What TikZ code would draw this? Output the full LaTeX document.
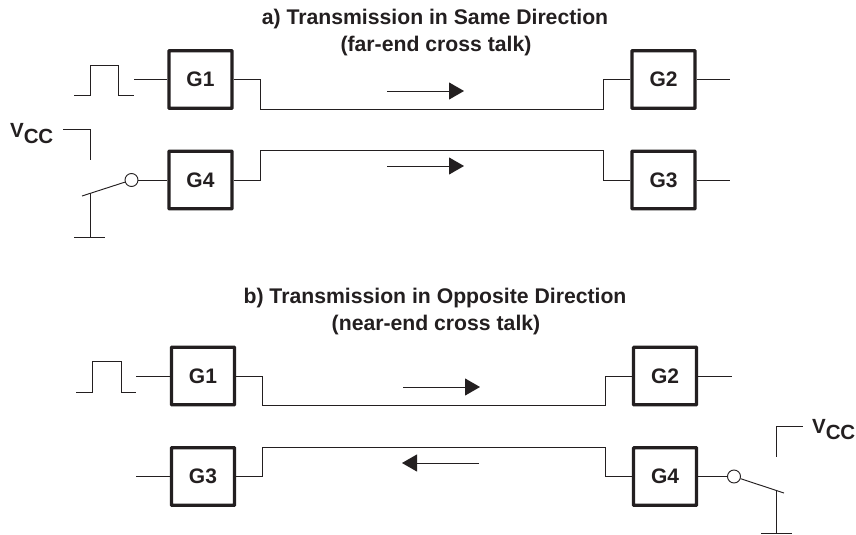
\documentclass[tikz,border=0pt]{standalone}
\usepackage{fontspec}
\setmainfont{Liberation Sans}
\usetikzlibrary{arrows.meta}
\definecolor{ink}{HTML}{231F20}
\tikzset{
  x=1pt,y=-1pt,
  gate/.style={draw=ink,line width=3.2pt,minimum width=63pt,minimum height=57.5pt,inner sep=0pt,font=\bfseries\fontsize{21}{23}\selectfont,text=ink,rounded corners=0.5pt},
  wire/.style={draw=ink,line width=0.95pt,line join=miter},
  flow/.style={draw=ink,line width=0.95pt,-{Triangle[length=15pt,width=17pt]}},
  title/.style={font=\bfseries\fontsize{21.2}{23}\selectfont,text=ink,inner sep=0pt,anchor=base},
  vcc/.style={font=\bfseries\fontsize{20.5}{22}\selectfont,text=ink,inner sep=0pt},
  contact/.style={circle,draw=ink,line width=0.95pt,fill=white,minimum size=13pt,inner sep=0pt}
}
\begin{document}
\begin{tikzpicture}
\useasboundingbox (0,0) rectangle (856,535);
% titles
\node[title] (ta1) at (435,25) {a) Transmission in Same Direction};
\node[title] (ta2) at (436,51.5) {(far-end cross talk)};
\node[title] (tb1) at (435,303) {b) Transmission in Opposite Direction};
\node[title] (tb2) at (436,330) {(near-end cross talk)};
% part a gates
\node[gate] (aG1) at (200.5,79.5) {G1};
\node[gate] (aG4) at (200.5,180) {G4};
\node[gate] (aG2) at (663.5,79.5) {G2};
\node[gate] (aG3) at (663.5,180) {G3};
% part b gates
\node[gate] (bG1) at (203,376) {G1};
\node[gate] (bG3) at (203,476.5) {G3};
\node[gate] (bG2) at (665,376) {G2};
\node[gate] (bG4) at (665,476.5) {G4};
% part a wiring
\draw[wire] (aG1.east) -| (260,109) -- (603,109) |- (aG2.west);
\draw[wire] (aG4.east) -| (260,150) -- (603,150) |- (aG3.west);
\coordinate (aIn) at (134,79.5);
\draw[wire] (aIn) -- (aG1.west);
\coordinate (aOut2) at (730,79.5);
\coordinate (aOut3) at (730,180);
\draw[wire] (aG2.east) -- (aOut2);
\draw[wire] (aG3.east) -- (aOut3);
\draw[wire] (74,95) -- (90,95) -- (90,65) -- (118.5,65) -- (118.5,95) -- (134,95);
\coordinate (aV) at (63,129);
\draw[wire] (aV) -- (90,129) -- (90,160);
\node[contact] (aC) at (131.5,180) {};
\draw[wire] (aC) -- (aG4.west);
\coordinate (aSw) at (82,196);
\draw[wire] (aC) -- (aSw);
\draw[wire] (90,193) -- (90,237);
\draw[wire] (74,237) -- (105,237);
\coordinate (aA1) at (387,91);
\coordinate (aA1e) at (464,91);
\coordinate (aA2) at (387,166);
\coordinate (aA2e) at (464,166);
\draw[flow] (aA1) -- (aA1e);
\draw[flow] (aA2) -- (aA2e);
\node[vcc,anchor=base west] (aVcc) at (10,137) {V\raisebox{-0.33em}{C\kern-0.02em C}};
% part b wiring
\draw[wire] (bG1.east) -| (262,405) -- (605,405) |- (bG2.west);
\draw[wire] (bG3.east) -| (262,447) -- (605,447) |- (bG4.west);
\coordinate (bIn) at (136,376);
\coordinate (bIn3) at (136,476.5);
\coordinate (bOut2) at (732,376);
\draw[wire] (bIn) -- (bG1.west);
\draw[wire] (bIn3) -- (bG3.west);
\draw[wire] (bG2.east) -- (bOut2);
\draw[wire] (76,392) -- (92,392) -- (92,361) -- (121,361) -- (121,392) -- (136,392);
\node[contact] (bC) at (734,476.5) {};
\draw[wire] (bG4.east) -- (bC);
\coordinate (bSw) at (784,493);
\draw[wire] (bC) -- (bSw);
\draw[wire] (776,490) -- (776,533);
\draw[wire] (761,533) -- (792,533);
\coordinate (bV) at (802.5,426);
\draw[wire] (bV) -- (776,426) -- (776,457);
\coordinate (bA1) at (403,387);
\coordinate (bA1e) at (480,387);
\coordinate (bA2) at (479,463);
\coordinate (bA2e) at (402,463);
\draw[flow] (bA1) -- (bA1e);
\draw[flow] (bA2) -- (bA2e);
\node[vcc,anchor=base west] (bVcc) at (812,433) {V\raisebox{-0.33em}{C\kern-0.02em C}};
\end{tikzpicture}
\end{document}
